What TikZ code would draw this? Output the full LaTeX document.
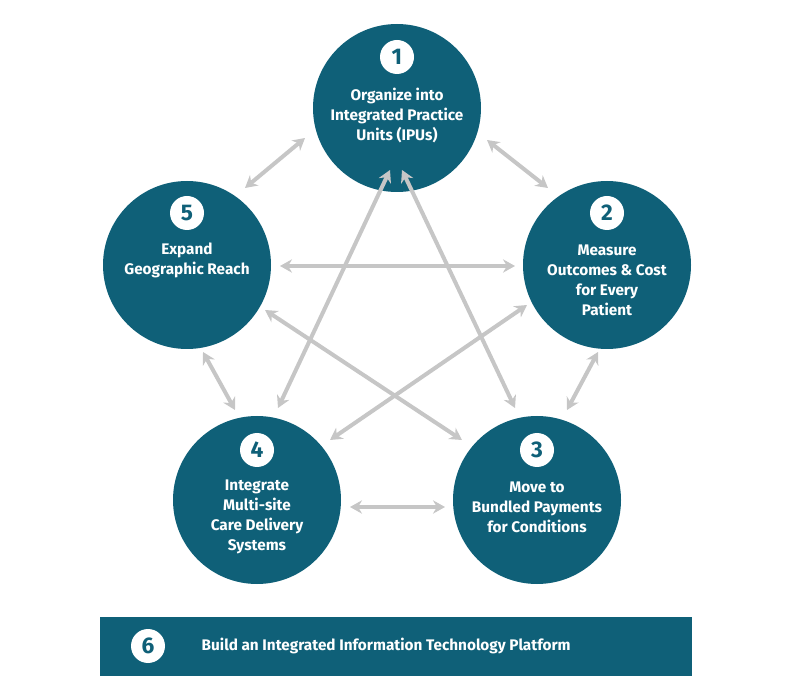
\documentclass[tikz,border=0pt]{standalone}
\usepackage{fontspec}
\setmainfont{Fira Sans}
\usetikzlibrary{arrows.meta}
\definecolor{teal}{HTML}{0F6078}
\definecolor{arr}{HTML}{C6C6C6}
\begin{document}
\begin{tikzpicture}[x=0.75pt,y=-0.75pt,
  big/.style={circle,fill=teal,minimum size=168*0.75pt,inner sep=0pt},
  num/.style={circle,fill=white,text=teal,minimum size=34*0.75pt,inner sep=0pt,font=\fontsize{17}{17}\selectfont\bfseries},
  lbl/.style={text=white,align=center,font=\fontsize{11.5}{15}\selectfont\bfseries},
  con/.style={draw=arr,line width=3pt,{Stealth[length=9pt,width=10pt]}-{Stealth[length=9pt,width=10pt]}}]
\useasboundingbox (0,0) rectangle (800,698);
\node[big] (c1) at (397,108) {};
\node[big] (c2) at (607,265) {};
\node[big] (c3) at (537,500) {};
\node[big] (c4) at (257,500) {};
\node[big] (c5) at (187,265) {};
\node[num] (n1) at (397,57) {1};
\node[num] (n2) at (607,213) {2};
\node[num] (n3) at (537,450) {3};
\node[num] (n4) at (257,450) {4};
\node[num] (n5) at (187,213) {5};
\node[lbl] (t1) at (397,116) {Organize into\\Integrated Practice\\Units (IPUs)};
\node[lbl] (t2) at (607,280) {Measure\\Outcomes \& Cost\\for Every\\Patient};
\node[lbl] (t3) at (537,507) {Move to\\Bundled Payments\\for Conditions};
\node[lbl] (t4) at (257,517) {Integrate\\Multi-site\\Care Delivery\\Systems};
\node[lbl] (t5) at (187,260) {Expand\\Geographic Reach};
\node[fill=teal,minimum width=592*0.75pt,minimum height=59*0.75pt,inner sep=0pt] (bar) at (396,646) {};
\node[num] (n6) at (148,646) {6};
\node[lbl,anchor=west] (t6) at (197,646) {Build an Integrated Information Technology Platform};
\coordinate (a12) at (487,140); \coordinate (b12) at (548,188);
\coordinate (a15) at (305,138); \coordinate (b15) at (245,188);
\coordinate (a23) at (598,352); \coordinate (b23) at (567,410);
\coordinate (a54) at (203,352); \coordinate (b54) at (235,410);
\coordinate (a43) at (350,507); \coordinate (b43) at (445,507);
\coordinate (a52) at (280,266); \coordinate (b52) at (515,266);
\coordinate (a14) at (390,170); \coordinate (b14) at (278,408);
\coordinate (a13) at (402,170); \coordinate (b13) at (515,408);
\coordinate (a53) at (265,310); \coordinate (b53) at (462,440);
\coordinate (a24) at (527,305); \coordinate (b24) at (330,440);
\foreach \p in {12,15,23,54,43,52,14,13,53,24} \draw[con] (a\p) -- (b\p);
\end{tikzpicture}
\end{document}
